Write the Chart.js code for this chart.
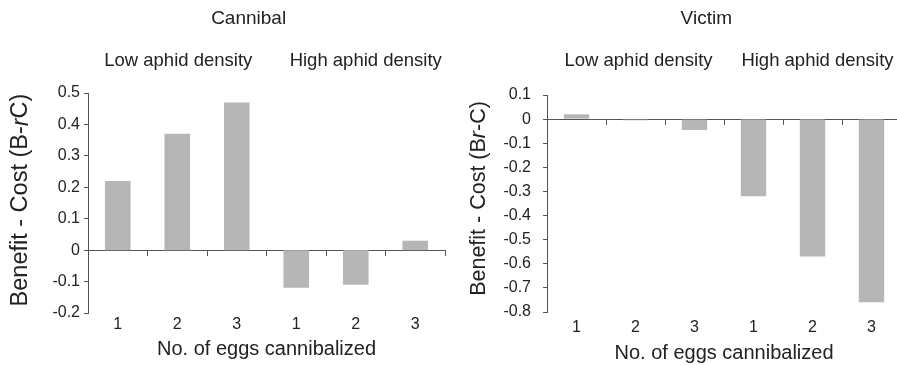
<!DOCTYPE html>
<html>
<head>
<meta charset="utf-8">
<script src="https://cdn.jsdelivr.net/npm/chart.js@4/dist/chart.umd.min.js"></script>
<style>
  html, body { margin: 0; padding: 0; background: #fff; }
  #wrap { position: relative; width: 897px; height: 365px; overflow: hidden; }
  #c1 { position: absolute; left: 0; top: 0; }
  #c2 { position: absolute; left: 450px; top: 0; }
</style>
</head>
<body>
<div id="wrap">
  <canvas id="c1" width="450" height="365"></canvas>
  <canvas id="c2" width="460" height="365"></canvas>
</div>
<script>
// ---- data ----
const categories = ['1', '2', '3', '1', '2', '3'];
const groupLabels = ['Low aphid density', 'High aphid density'];
const cannibalValues = [0.22, 0.37, 0.47, -0.12, -0.11, 0.03];
const victimValues = [0.02, -0.005, -0.045, -0.32, -0.57, -0.76];
const cannibalTicks = { min: -0.2, max: 0.5, step: 0.1 };
const victimTicks = { min: -0.8, max: 0.1, step: 0.1 };
// y-axis titles: [text, italic]
const cannibalYTitle = [['Benefit - Cost (B-', false], ['r', true], ['C)', false]];
const victimYTitle = [['Benefit - Cost (B', false], ['r', true], ['-C)', false]];

const FONT = '"Liberation Sans", Arial, Helvetica, sans-serif';
const TEXT = '#222';
const AXIS = '#555';
const BAR = '#b6b6b6';

const headingPlugin = {
  id: 'headings',
  afterDraw(chart, args, opts) {
    const { ctx, chartArea, scales } = chart;
    const x = scales.x;
    ctx.save();
    ctx.fillStyle = TEXT;
    ctx.textAlign = 'center';
    ctx.textBaseline = 'middle';
    // panel title
    ctx.font = '19px ' + FONT;
    ctx.fillText(opts.title, chartArea.left + (chartArea.right - chartArea.left) * 0.45, 19);
    // group labels
    ctx.font = '18.5px ' + FONT;
    ctx.fillText(groupLabels[0], x.getPixelForValue(1) + opts.shifts[0], 61);
    ctx.fillText(groupLabels[1], x.getPixelForValue(4) + opts.shifts[1], 61);
    // y-axis title with italic r
    const size = opts.ySize;
    const parts = opts.yTitle;
    const fontFor = (it) => (it ? 'italic ' : '') + size + 'px ' + FONT;
    let total = 0;
    const widths = parts.map(([t, it]) => { ctx.font = fontFor(it); const w = ctx.measureText(t).width; total += w; return w; });
    const cy = (chartArea.top + chartArea.bottom) / 2 + opts.yShift;
    ctx.translate(opts.yX, cy);
    ctx.rotate(-Math.PI / 2);
    ctx.textAlign = 'left';
    let pos = -total / 2;
    parts.forEach(([t, it], i) => {
      ctx.font = fontFor(it);
      ctx.fillText(t, pos, 0);
      pos += widths[i];
    });
    ctx.restore();
  }
};

function makeChart(canvasId, cfg) {
  return new Chart(document.getElementById(canvasId), {
    type: 'bar',
    data: {
      labels: categories,
      datasets: [{
        data: cfg.values,
        backgroundColor: BAR,
        borderWidth: 0,
        barPercentage: 0.43,
        categoryPercentage: 1,
        xAxisID: 'x',
        yAxisID: 'y'
      }]
    },
    plugins: [headingPlugin],
    options: {
      responsive: false,
      animation: false,
      events: [],
      layout: { padding: { top: cfg.padTop, right: cfg.padRight, left: 0, bottom: 0 } },
      plugins: {
        legend: { display: false },
        tooltip: { enabled: false },
        title: { display: false },
        headings: { title: cfg.title, shifts: cfg.shifts, yTitle: cfg.yTitle, ySize: cfg.ySize, yX: cfg.yX, yShift: cfg.yShift }
      },
      scales: {
        x: {
          type: 'category',
          axis: 'x',
          position: { y: 0 },
          offset: true,
          border: { display: true, color: AXIS, width: 1 },
          grid: { display: true, offset: true, drawOnChartArea: false, drawTicks: true, tickLength: 5, color: AXIS },
          ticks: { display: false }
        },
        x2: {
          type: 'category',
          axis: 'x',
          position: 'bottom',
          offset: true,
          border: { display: false },
          grid: { display: false, drawTicks: false },
          ticks: { font: { family: FONT, size: 16 }, color: TEXT, padding: cfg.xTickPad, maxRotation: 0 },
          title: { display: true, text: 'No. of eggs cannibalized', font: { family: FONT, size: 20 }, color: TEXT, padding: { top: 0, bottom: cfg.xTitlePad } },
          afterFit(scale) { scale.height = cfg.xHeight; }
        },
        y: {
          type: 'linear',
          position: 'left',
          min: cfg.ticks.min,
          max: cfg.ticks.max,
          border: { display: true, color: AXIS, width: 1 },
          grid: { display: true, drawOnChartArea: false, drawTicks: true, tickLength: 4, color: AXIS },
          ticks: {
            stepSize: cfg.ticks.step,
            font: { family: FONT, size: 16 },
            color: TEXT,
            padding: cfg.yTickPad,
            callback: (v) => String(Number(Number(v).toFixed(1)))
          },
          title: { display: false },
          afterFit(scale) { scale.width = cfg.yWidth; }
        }
      }
    }
  });
}

makeChart('c1', {
  values: cannibalValues,
  ticks: cannibalTicks,
  title: 'Cannibal',
  yTitle: cannibalYTitle,
  padTop: 93, padRight: 5,
  yWidth: 88, xHeight: 52,
  ySize: 23.5, yX: 21, yShift: -3, yTickPad: 4,
  xTickPad: 2, xTitlePad: 4,
  shifts: [1, 10]
});

makeChart('c2', {
  values: victimValues,
  ticks: victimTicks,
  title: 'Victim',
  yTitle: victimYTitle,
  padTop: 95, padRight: 9,
  yWidth: 97, xHeight: 53,
  ySize: 21.5, yX: 29, yShift: -5, yTickPad: 12,
  xTickPad: 6, xTitlePad: 0,
  shifts: [3, 5]
});
</script>
</body>
</html>
